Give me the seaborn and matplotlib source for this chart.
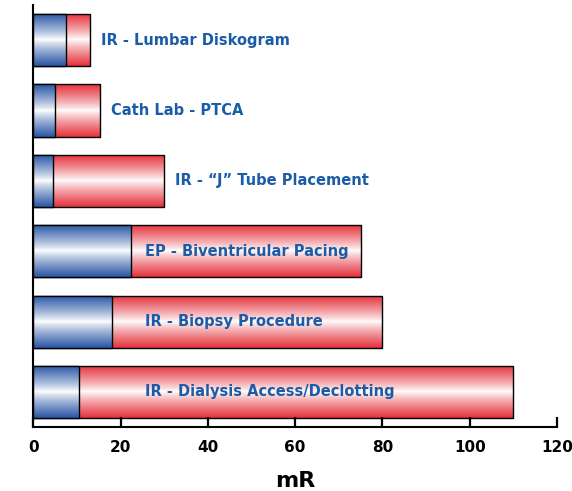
import numpy as np
import pandas as pd
import matplotlib
matplotlib.use("Agg")
import matplotlib.pyplot as plt
import seaborn as sns
from matplotlib.colors import to_rgb

# data
procedures = ["IR - Lumbar Diskogram", "Cath Lab - PTCA", "IR - \u201cJ\u201d Tube Placement",
              "EP - Biventricular Pacing", "IR - Biopsy Procedure", "IR - Dialysis Access/Declotting"]
blue_part = [7.5, 5.0, 4.5, 22.5, 18.0, 10.5]
total_dose = [13.0, 15.3, 30.0, 75.0, 80.0, 110.0]
x_ticks = [0, 20, 40, 60, 80, 100, 120]

BLUE = "#2a57a6"
RED = "#e5333d"
TEXT_BLUE = "#1a5ca8"

df = pd.DataFrame({"procedure": procedures, "blue": blue_part, "total": total_dose})

sns.set_style("white")
plt.rcParams["font.family"] = ["DejaVu Sans"]
plt.rcParams["image.composite_image"] = False

fig = plt.figure(figsize=(5.72, 4.91), dpi=100)
ax = fig.add_axes([0.058, 0.130, 0.916, 0.860])

# red = total dose, blue drawn over it from zero
sns.barplot(data=df, x="total", y="procedure", color=RED, width=0.74,
            edgecolor="black", linewidth=1, saturation=1, ax=ax)
sns.barplot(data=df, x="blue", y="procedure", color=BLUE, width=0.74,
            edgecolor="black", linewidth=1, saturation=1, ax=ax)


def gradient(edge, n=64):
    # white in the middle, full colour at top and bottom edges
    t = np.linspace(0, 1, n)
    w = np.abs(t - 0.5) * 2
    w = w ** 0.85
    e = np.array(to_rgb(edge))
    img = (1 - w)[:, None] * np.ones(3) + w[:, None] * e
    return img[:, None, :]


n = len(procedures)
for i, patch in enumerate(ax.patches):
    edge = RED if i < n else BLUE
    x0, y0 = patch.get_x(), patch.get_y()
    w, h = patch.get_width(), patch.get_height()
    z = 1 + 0.1 * (i // n)
    im = ax.imshow(gradient(edge), extent=[x0, x0 + w, y0 + h, y0],
                   aspect="auto", zorder=z, interpolation="bilinear")
    im.set_clip_path(patch)
    patch.set_facecolor("none")
    patch.set_zorder(z + 0.05)

# labels: after short bars, inside long ones
for i, (name, tot) in enumerate(zip(procedures, total_dose)):
    xpos = tot + 2.5 if tot < 40 else 25.5
    ax.text(xpos, i, name, color=TEXT_BLUE, fontsize=10.5, fontweight="bold",
            va="center", ha="left", zorder=10)

ax.set_axisbelow(False)
ax.set_xlim(0, 120)
ax.set_ylim(len(procedures) - 0.5, -0.5)
ax.set_xticks(x_ticks)
ax.set_xticklabels([str(t) for t in x_ticks], fontweight="bold", fontsize=11)
ax.set_yticks([])
ax.set_ylabel("")
ax.set_xlabel("mR", fontsize=16, fontweight="bold", labelpad=12, color="black")
ax.tick_params(axis="x", direction="in", length=7, width=1.6, pad=9, bottom=True,
               color="black", labelcolor="black")
for s in ["top", "right"]:
    ax.spines[s].set_visible(False)
for s in ["left", "bottom"]:
    ax.spines[s].set_linewidth(1.5)
    ax.spines[s].set_color("black")

fig.savefig("out.png", dpi=100)
